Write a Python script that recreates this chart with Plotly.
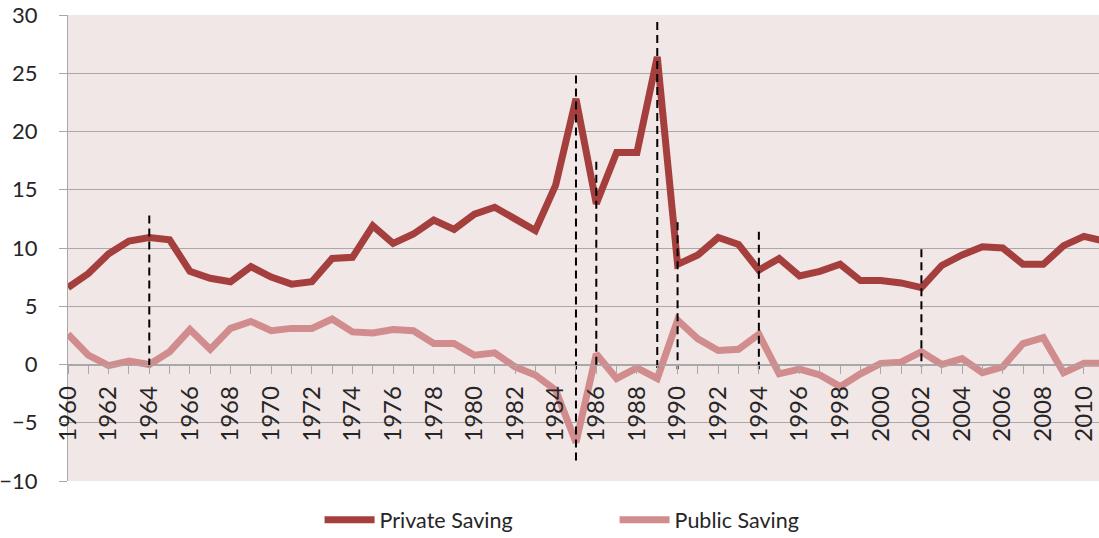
import plotly.graph_objects as go

years = list(range(1960, 2012))

private_saving = [
    6.6, 7.8, 9.5, 10.6, 10.9, 10.7, 8.0, 7.4, 7.1, 8.4,
    7.5, 6.9, 7.1, 9.1, 9.2, 11.9, 10.4, 11.2, 12.4, 11.6,
    12.9, 13.5, 12.5, 11.5, 15.4, 22.8, 13.8, 18.2, 18.2, 26.4,
    8.6, 9.4, 10.9, 10.3, 8.1, 9.1, 7.6, 8.0, 8.6, 7.2,
    7.2, 7.0, 6.6, 8.5, 9.4, 10.1, 10.0, 8.6, 8.6, 10.2,
    11.0, 10.6,
]

public_saving = [
    2.6, 0.8, -0.1, 0.3, 0.0, 1.1, 3.0, 1.3, 3.1, 3.7,
    2.9, 3.1, 3.1, 3.9, 2.8, 2.7, 3.0, 2.9, 1.8, 1.8,
    0.8, 1.0, -0.2, -0.9, -2.2, -6.7, 0.9, -1.2, -0.3, -1.2,
    3.8, 2.2, 1.2, 1.3, 2.6, -0.8, -0.4, -0.9, -1.9, -0.8,
    0.1, 0.2, 1.1, 0.0, 0.5, -0.7, -0.2, 1.8, 2.3, -0.7,
    0.1, 0.1,
]

# Marked years, each drawn as a dashed vertical segment
event_years = [1964, 1985, 1986, 1989, 1990, 1994, 2002]
event_top = [12.8, 24.8, 17.4, 29.4, 12.2, 11.4, 9.9]
event_bottom = [-0.4, -8.4, -0.1, -0.7, -0.4, -0.4, -0.2]

y_ticks = [-10, -5, 0, 5, 10, 15, 20, 25, 30]

private_color = "#A53F3E"
public_color = "#D18D8D"
grid_color = "#A8A8A8"
font_family = "Lato, 'Open Sans', sans-serif"

fig = go.Figure()

fig.add_trace(go.Scatter(
    x=years, y=private_saving, mode="lines", name="Private Saving",
    line=dict(color=private_color, width=7),
))
fig.add_trace(go.Scatter(
    x=years, y=public_saving, mode="lines", name="Public Saving",
    line=dict(color=public_color, width=7),
))

seg_x, seg_y = [], []
for yr, top, bot in zip(event_years, event_top, event_bottom):
    seg_x += [yr, yr, None]
    seg_y += [top, bot, None]
fig.add_trace(go.Scatter(
    x=seg_x, y=seg_y, mode="lines", showlegend=False, hoverinfo="skip",
    line=dict(color="black", width=2, dash="8px,5px"),
))

fig.update_layout(
    width=1099, height=538,
    margin=dict(l=68, r=0, t=15, b=57, autoexpand=False),
    paper_bgcolor="white",
    plot_bgcolor="#F2E7E7",
    font=dict(family=font_family, color="#262626"),
    legend=dict(
        orientation="h", x=0.244, xanchor="left",
        yref="container", y=0.034, yanchor="middle",
        font=dict(size=21.5, color="#262626"), entrywidth=230,
        itemwidth=50,
        bgcolor="rgba(0,0,0,0)",
    ),
)

fig.update_yaxes(
    range=[-10, 30], tickvals=y_ticks,
    showgrid=True, gridcolor=grid_color, gridwidth=1,
    zeroline=False,
    showline=True, linecolor=grid_color, linewidth=1,
    ticks="outside", ticklen=8, tickcolor=grid_color,
    tickfont=dict(size=22, color="#262626"),
    ticklabelstandoff=17,
    ticklabeloverflow="allow",
)

fig.update_xaxes(
    range=[1960, 2010.74],
    anchor="free", position=0.25,
    tick0=1960, dtick=2, tickangle=-90,
    showgrid=False, zeroline=False,
    showline=True, linecolor=grid_color, linewidth=1,
    ticks="outside", ticklen=8, tickcolor=grid_color,
    minor=dict(dtick=1, tick0=1960, ticks="outside", ticklen=8, tickcolor=grid_color),
    tickfont=dict(size=24, color="#262626"),
    ticklabelstandoff=3,
    ticklabeloverflow="allow",
)

fig.write_html("out.html")
